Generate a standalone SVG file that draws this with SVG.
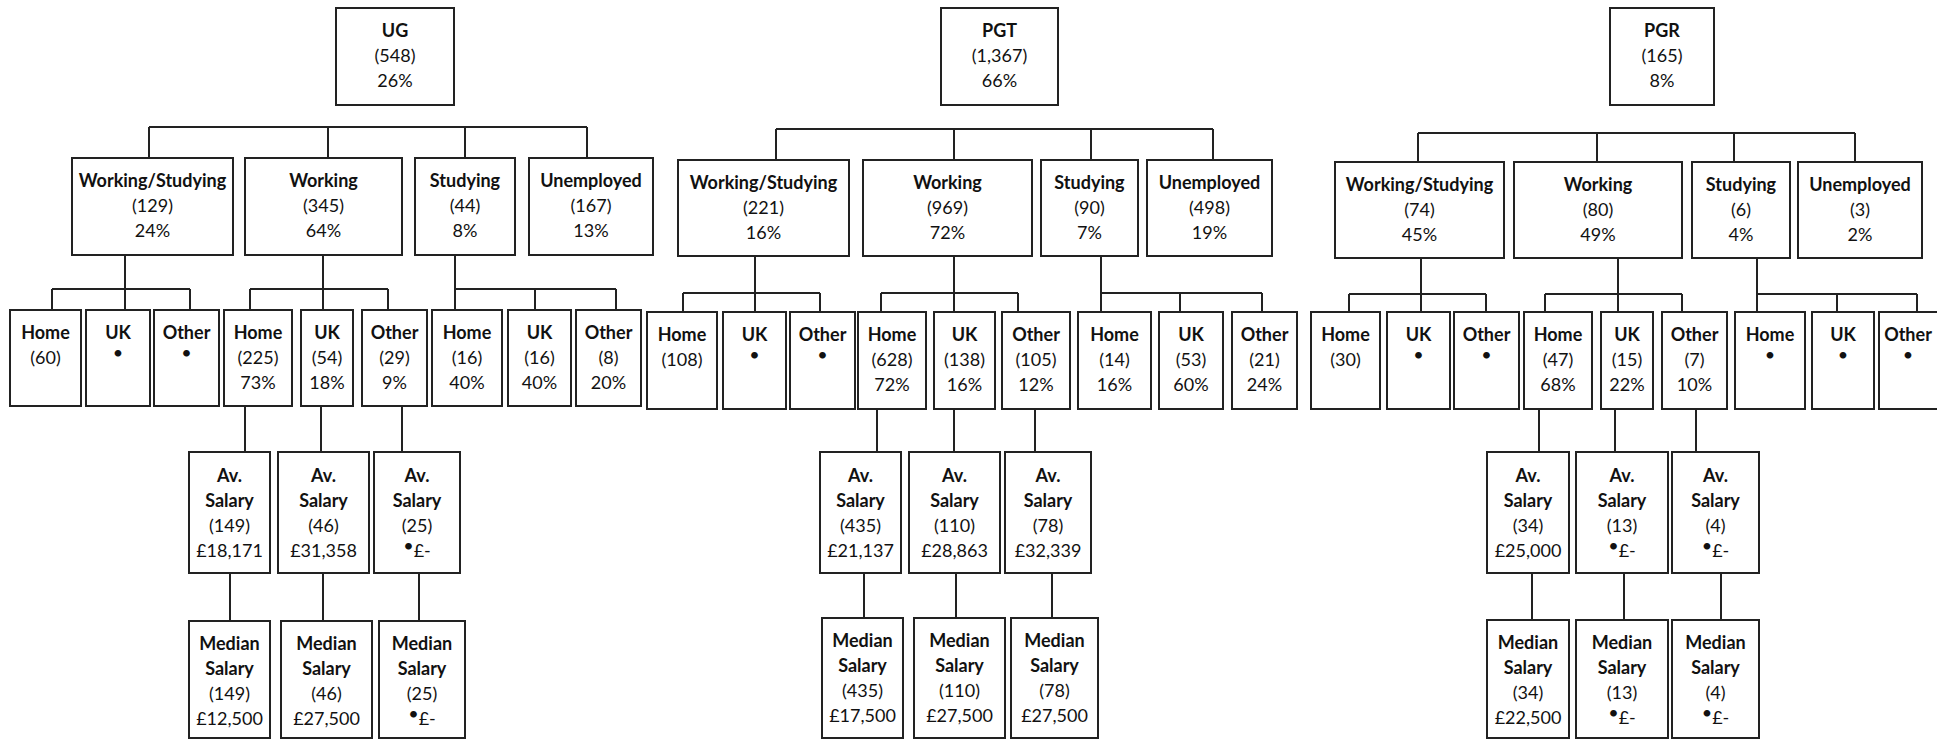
<svg xmlns="http://www.w3.org/2000/svg" width="1937" height="739" viewBox="0 0 1937 739">
<style>
rect{fill:#fff;stroke:#222;stroke-width:2}
text{font-family:Lato,"Liberation Sans",sans-serif;font-size:18px;text-anchor:middle;fill:#111}
.h{font-weight:bold}
#connectors path{fill:none;stroke:#222;stroke-width:2}
</style>
<rect x="0" y="0" width="1937" height="739" style="stroke:none"/>
<g id="connectors">
<path d="M149 127H587M149 127V158M328 127V158M465 127V158M587 127V158"/>
<path d="M125 255V310M52 289H190M52 289V310M190 289V310"/>
<path d="M323 255V310M250 289H388M250 289V310M388 289V310"/>
<path d="M455 255V310M455 289H616M535 289V310M616 289V310"/>
<path d="M245 406V452M321 406V452M402 406V452"/>
<path d="M230 573V621M323 573V621M419 573V621"/>
<path d="M776 129H1213M776 129V160M954 129V160M1091 129V160M1213 129V160"/>
<path d="M755 256V312M683 293H820M683 293V312M820 293V312"/>
<path d="M954 256V312M881 293H1018M881 293V312M1018 293V312"/>
<path d="M1101 256V312M1101 293H1262M1180 293V312M1262 293V312"/>
<path d="M877 409V452M954 409V452M1035 409V452"/>
<path d="M864 573V618M956 573V618M1052 573V618"/>
<path d="M1418 133H1855M1418 133V162M1597 133V162M1734 133V162M1855 133V162"/>
<path d="M1421 258V312M1349 294H1486M1349 294V312M1486 294V312"/>
<path d="M1618 258V312M1545 294H1682M1545 294V312M1682 294V312"/>
<path d="M1757 258V312M1757 294H1917M1837 294V312M1917 294V312"/>
<path d="M1539 409V452M1615 409V452M1696 409V452"/>
<path d="M1532 573V620M1624 573V620M1721 573V620"/>
</g>

<!-- UG -->
<g id="ug"><rect x="336" y="8" width="118" height="97"/><text class="h" x="395" y="37">UG</text><text x="395" y="62">(548)</text><text x="395" y="87">26%</text></g>
<g id="ug-ws"><rect x="72" y="158" width="161" height="97"/><text class="h" x="152.5" y="187">Working/Studying</text><text x="152.5" y="212">(129)</text><text x="152.5" y="237">24%</text></g>
<g id="ug-w"><rect x="245" y="158" width="157" height="97"/><text class="h" x="323.5" y="187">Working</text><text x="323.5" y="212">(345)</text><text x="323.5" y="237">64%</text></g>
<g id="ug-s"><rect x="415" y="158" width="100" height="97"/><text class="h" x="465" y="187">Studying</text><text x="465" y="212">(44)</text><text x="465" y="237">8%</text></g>
<g id="ug-u"><rect x="529" y="158" width="124" height="97"/><text class="h" x="591" y="187">Unemployed</text><text x="591" y="212">(167)</text><text x="591" y="237">13%</text></g>
<g id="ug-ws-home"><rect x="10" y="310" width="71" height="96"/><text class="h" x="45.5" y="339">Home</text><text x="45.5" y="364">(60)</text></g>
<g id="ug-ws-uk"><rect x="86" y="310" width="64" height="96"/><text class="h" x="118" y="339">UK</text><text x="118" y="359">•</text></g>
<g id="ug-ws-other"><rect x="154" y="310" width="65" height="96"/><text class="h" x="186.5" y="339">Other</text><text x="186.5" y="359">•</text></g>
<g id="ug-w-home"><rect x="224" y="310" width="68" height="96"/><text class="h" x="258" y="339">Home</text><text x="258" y="364">(225)</text><text x="258" y="389">73%</text></g>
<g id="ug-w-uk"><rect x="301" y="310" width="52" height="96"/><text class="h" x="327" y="339">UK</text><text x="327" y="364">(54)</text><text x="327" y="389">18%</text></g>
<g id="ug-w-other"><rect x="362" y="310" width="65" height="96"/><text class="h" x="394.5" y="339">Other</text><text x="394.5" y="364">(29)</text><text x="394.5" y="389">9%</text></g>
<g id="ug-s-home"><rect x="432" y="310" width="70" height="96"/><text class="h" x="467" y="339">Home</text><text x="467" y="364">(16)</text><text x="467" y="389">40%</text></g>
<g id="ug-s-uk"><rect x="508" y="310" width="63" height="96"/><text class="h" x="539.5" y="339">UK</text><text x="539.5" y="364">(16)</text><text x="539.5" y="389">40%</text></g>
<g id="ug-s-other"><rect x="576" y="310" width="65" height="96"/><text class="h" x="608.5" y="339">Other</text><text x="608.5" y="364">(8)</text><text x="608.5" y="389">20%</text></g>
<g id="ug-av-home"><rect x="189" y="452" width="81" height="121"/><text class="h" x="229.5" y="482">Av.</text><text class="h" x="229.5" y="507">Salary</text><text x="229.5" y="532">(149)</text><text x="229.5" y="557">£18,171</text></g>
<g id="ug-av-uk"><rect x="278" y="452" width="91" height="121"/><text class="h" x="323.5" y="482">Av.</text><text class="h" x="323.5" y="507">Salary</text><text x="323.5" y="532">(46)</text><text x="323.5" y="557">£31,358</text></g>
<g id="ug-av-other"><rect x="374" y="452" width="86" height="121"/><text class="h" x="417" y="482">Av.</text><text class="h" x="417" y="507">Salary</text><text x="417" y="532">(25)</text><text x="417" y="557"><tspan dy="-5">•</tspan><tspan dy="5">£-</tspan></text></g>
<g id="ug-med-home"><rect x="189" y="621" width="81" height="117"/><text class="h" x="229.5" y="650">Median</text><text class="h" x="229.5" y="675">Salary</text><text x="229.5" y="700">(149)</text><text x="229.5" y="725">£12,500</text></g>
<g id="ug-med-uk"><rect x="281" y="621" width="91" height="117"/><text class="h" x="326.5" y="650">Median</text><text class="h" x="326.5" y="675">Salary</text><text x="326.5" y="700">(46)</text><text x="326.5" y="725">£27,500</text></g>
<g id="ug-med-other"><rect x="379" y="621" width="86" height="117"/><text class="h" x="422" y="650">Median</text><text class="h" x="422" y="675">Salary</text><text x="422" y="700">(25)</text><text x="422" y="725"><tspan dy="-5">•</tspan><tspan dy="5">£-</tspan></text></g>

<!-- PGT -->
<g id="pgt"><rect x="941" y="8" width="117" height="97"/><text class="h" x="999.5" y="37">PGT</text><text x="999.5" y="62">(1,367)</text><text x="999.5" y="87">66%</text></g>
<g id="pgt-ws"><rect x="678" y="160" width="171" height="96"/><text class="h" x="763.5" y="189">Working/Studying</text><text x="763.5" y="214">(221)</text><text x="763.5" y="239">16%</text></g>
<g id="pgt-w"><rect x="863" y="160" width="169" height="96"/><text class="h" x="947.5" y="189">Working</text><text x="947.5" y="214">(969)</text><text x="947.5" y="239">72%</text></g>
<g id="pgt-s"><rect x="1041" y="160" width="97" height="96"/><text class="h" x="1089.5" y="189">Studying</text><text x="1089.5" y="214">(90)</text><text x="1089.5" y="239">7%</text></g>
<g id="pgt-u"><rect x="1147" y="160" width="125" height="96"/><text class="h" x="1209.5" y="189">Unemployed</text><text x="1209.5" y="214">(498)</text><text x="1209.5" y="239">19%</text></g>
<g id="pgt-ws-home"><rect x="647" y="312" width="70" height="97"/><text class="h" x="682" y="341">Home</text><text x="682" y="366">(108)</text></g>
<g id="pgt-ws-uk"><rect x="723" y="312" width="63" height="97"/><text class="h" x="754.5" y="341">UK</text><text x="754.5" y="361">•</text></g>
<g id="pgt-ws-other"><rect x="790" y="312" width="65" height="97"/><text class="h" x="822.5" y="341">Other</text><text x="822.5" y="361">•</text></g>
<g id="pgt-w-home"><rect x="858" y="312" width="68" height="97"/><text class="h" x="892" y="341">Home</text><text x="892" y="366">(628)</text><text x="892" y="391">72%</text></g>
<g id="pgt-w-uk"><rect x="934" y="312" width="61" height="97"/><text class="h" x="964.5" y="341">UK</text><text x="964.5" y="366">(138)</text><text x="964.5" y="391">16%</text></g>
<g id="pgt-w-other"><rect x="1002" y="312" width="68" height="97"/><text class="h" x="1036" y="341">Other</text><text x="1036" y="366">(105)</text><text x="1036" y="391">12%</text></g>
<g id="pgt-s-home"><rect x="1078" y="312" width="73" height="97"/><text class="h" x="1114.5" y="341">Home</text><text x="1114.5" y="366">(14)</text><text x="1114.5" y="391">16%</text></g>
<g id="pgt-s-uk"><rect x="1159" y="312" width="64" height="97"/><text class="h" x="1191" y="341">UK</text><text x="1191" y="366">(53)</text><text x="1191" y="391">60%</text></g>
<g id="pgt-s-other"><rect x="1232" y="312" width="65" height="97"/><text class="h" x="1264.5" y="341">Other</text><text x="1264.5" y="366">(21)</text><text x="1264.5" y="391">24%</text></g>
<g id="pgt-av-home"><rect x="820" y="452" width="81" height="121"/><text class="h" x="860.5" y="482">Av.</text><text class="h" x="860.5" y="507">Salary</text><text x="860.5" y="532">(435)</text><text x="860.5" y="557">£21,137</text></g>
<g id="pgt-av-uk"><rect x="909" y="452" width="91" height="121"/><text class="h" x="954.5" y="482">Av.</text><text class="h" x="954.5" y="507">Salary</text><text x="954.5" y="532">(110)</text><text x="954.5" y="557">£28,863</text></g>
<g id="pgt-av-other"><rect x="1005" y="452" width="86" height="121"/><text class="h" x="1048" y="482">Av.</text><text class="h" x="1048" y="507">Salary</text><text x="1048" y="532">(78)</text><text x="1048" y="557">£32,339</text></g>
<g id="pgt-med-home"><rect x="822" y="618" width="81" height="120"/><text class="h" x="862.5" y="647">Median</text><text class="h" x="862.5" y="672">Salary</text><text x="862.5" y="697">(435)</text><text x="862.5" y="722">£17,500</text></g>
<g id="pgt-med-uk"><rect x="914" y="618" width="91" height="120"/><text class="h" x="959.5" y="647">Median</text><text class="h" x="959.5" y="672">Salary</text><text x="959.5" y="697">(110)</text><text x="959.5" y="722">£27,500</text></g>
<g id="pgt-med-other"><rect x="1011" y="618" width="87" height="120"/><text class="h" x="1054.5" y="647">Median</text><text class="h" x="1054.5" y="672">Salary</text><text x="1054.5" y="697">(78)</text><text x="1054.5" y="722">£27,500</text></g>

<!-- PGR -->
<g id="pgr"><rect x="1610" y="8" width="104" height="97"/><text class="h" x="1662" y="37">PGR</text><text x="1662" y="62">(165)</text><text x="1662" y="87">8%</text></g>
<g id="pgr-ws"><rect x="1335" y="162" width="169" height="96"/><text class="h" x="1419.5" y="191">Working/Studying</text><text x="1419.5" y="216">(74)</text><text x="1419.5" y="241">45%</text></g>
<g id="pgr-w"><rect x="1514" y="162" width="168" height="96"/><text class="h" x="1598" y="191">Working</text><text x="1598" y="216">(80)</text><text x="1598" y="241">49%</text></g>
<g id="pgr-s"><rect x="1692" y="162" width="98" height="96"/><text class="h" x="1741" y="191">Studying</text><text x="1741" y="216">(6)</text><text x="1741" y="241">4%</text></g>
<g id="pgr-u"><rect x="1798" y="162" width="124" height="96"/><text class="h" x="1860" y="191">Unemployed</text><text x="1860" y="216">(3)</text><text x="1860" y="241">2%</text></g>
<g id="pgr-ws-home"><rect x="1311" y="312" width="69" height="97"/><text class="h" x="1345.5" y="341">Home</text><text x="1345.5" y="366">(30)</text></g>
<g id="pgr-ws-uk"><rect x="1387" y="312" width="63" height="97"/><text class="h" x="1418.5" y="341">UK</text><text x="1418.5" y="361">•</text></g>
<g id="pgr-ws-other"><rect x="1454" y="312" width="65" height="97"/><text class="h" x="1486.5" y="341">Other</text><text x="1486.5" y="361">•</text></g>
<g id="pgr-w-home"><rect x="1524" y="312" width="68" height="97"/><text class="h" x="1558" y="341">Home</text><text x="1558" y="366">(47)</text><text x="1558" y="391">68%</text></g>
<g id="pgr-w-uk"><rect x="1601" y="312" width="52" height="97"/><text class="h" x="1627" y="341">UK</text><text x="1627" y="366">(15)</text><text x="1627" y="391">22%</text></g>
<g id="pgr-w-other"><rect x="1662" y="312" width="65" height="97"/><text class="h" x="1694.5" y="341">Other</text><text x="1694.5" y="366">(7)</text><text x="1694.5" y="391">10%</text></g>
<g id="pgr-s-home"><rect x="1735" y="312" width="70" height="97"/><text class="h" x="1770" y="341">Home</text><text x="1770" y="361">•</text></g>
<g id="pgr-s-uk"><rect x="1812" y="312" width="62" height="97"/><text class="h" x="1843" y="341">UK</text><text x="1843" y="361">•</text></g>
<g id="pgr-s-other"><rect x="1879" y="312" width="62" height="97"/><text class="h" x="1908" y="341">Other</text><text x="1908" y="361">•</text></g>
<g id="pgr-av-home"><rect x="1487" y="452" width="82" height="121"/><text class="h" x="1528" y="482">Av.</text><text class="h" x="1528" y="507">Salary</text><text x="1528" y="532">(34)</text><text x="1528" y="557">£25,000</text></g>
<g id="pgr-av-uk"><rect x="1576" y="452" width="92" height="121"/><text class="h" x="1622" y="482">Av.</text><text class="h" x="1622" y="507">Salary</text><text x="1622" y="532">(13)</text><text x="1622" y="557"><tspan dy="-5">•</tspan><tspan dy="5">£-</tspan></text></g>
<g id="pgr-av-other"><rect x="1672" y="452" width="87" height="121"/><text class="h" x="1715.5" y="482">Av.</text><text class="h" x="1715.5" y="507">Salary</text><text x="1715.5" y="532">(4)</text><text x="1715.5" y="557"><tspan dy="-5">•</tspan><tspan dy="5">£-</tspan></text></g>
<g id="pgr-med-home"><rect x="1487" y="620" width="82" height="118"/><text class="h" x="1528" y="649">Median</text><text class="h" x="1528" y="674">Salary</text><text x="1528" y="699">(34)</text><text x="1528" y="724">£22,500</text></g>
<g id="pgr-med-uk"><rect x="1576" y="620" width="92" height="118"/><text class="h" x="1622" y="649">Median</text><text class="h" x="1622" y="674">Salary</text><text x="1622" y="699">(13)</text><text x="1622" y="724"><tspan dy="-5">•</tspan><tspan dy="5">£-</tspan></text></g>
<g id="pgr-med-other"><rect x="1672" y="620" width="87" height="118"/><text class="h" x="1715.5" y="649">Median</text><text class="h" x="1715.5" y="674">Salary</text><text x="1715.5" y="699">(4)</text><text x="1715.5" y="724"><tspan dy="-5">•</tspan><tspan dy="5">£-</tspan></text></g>
</svg>
